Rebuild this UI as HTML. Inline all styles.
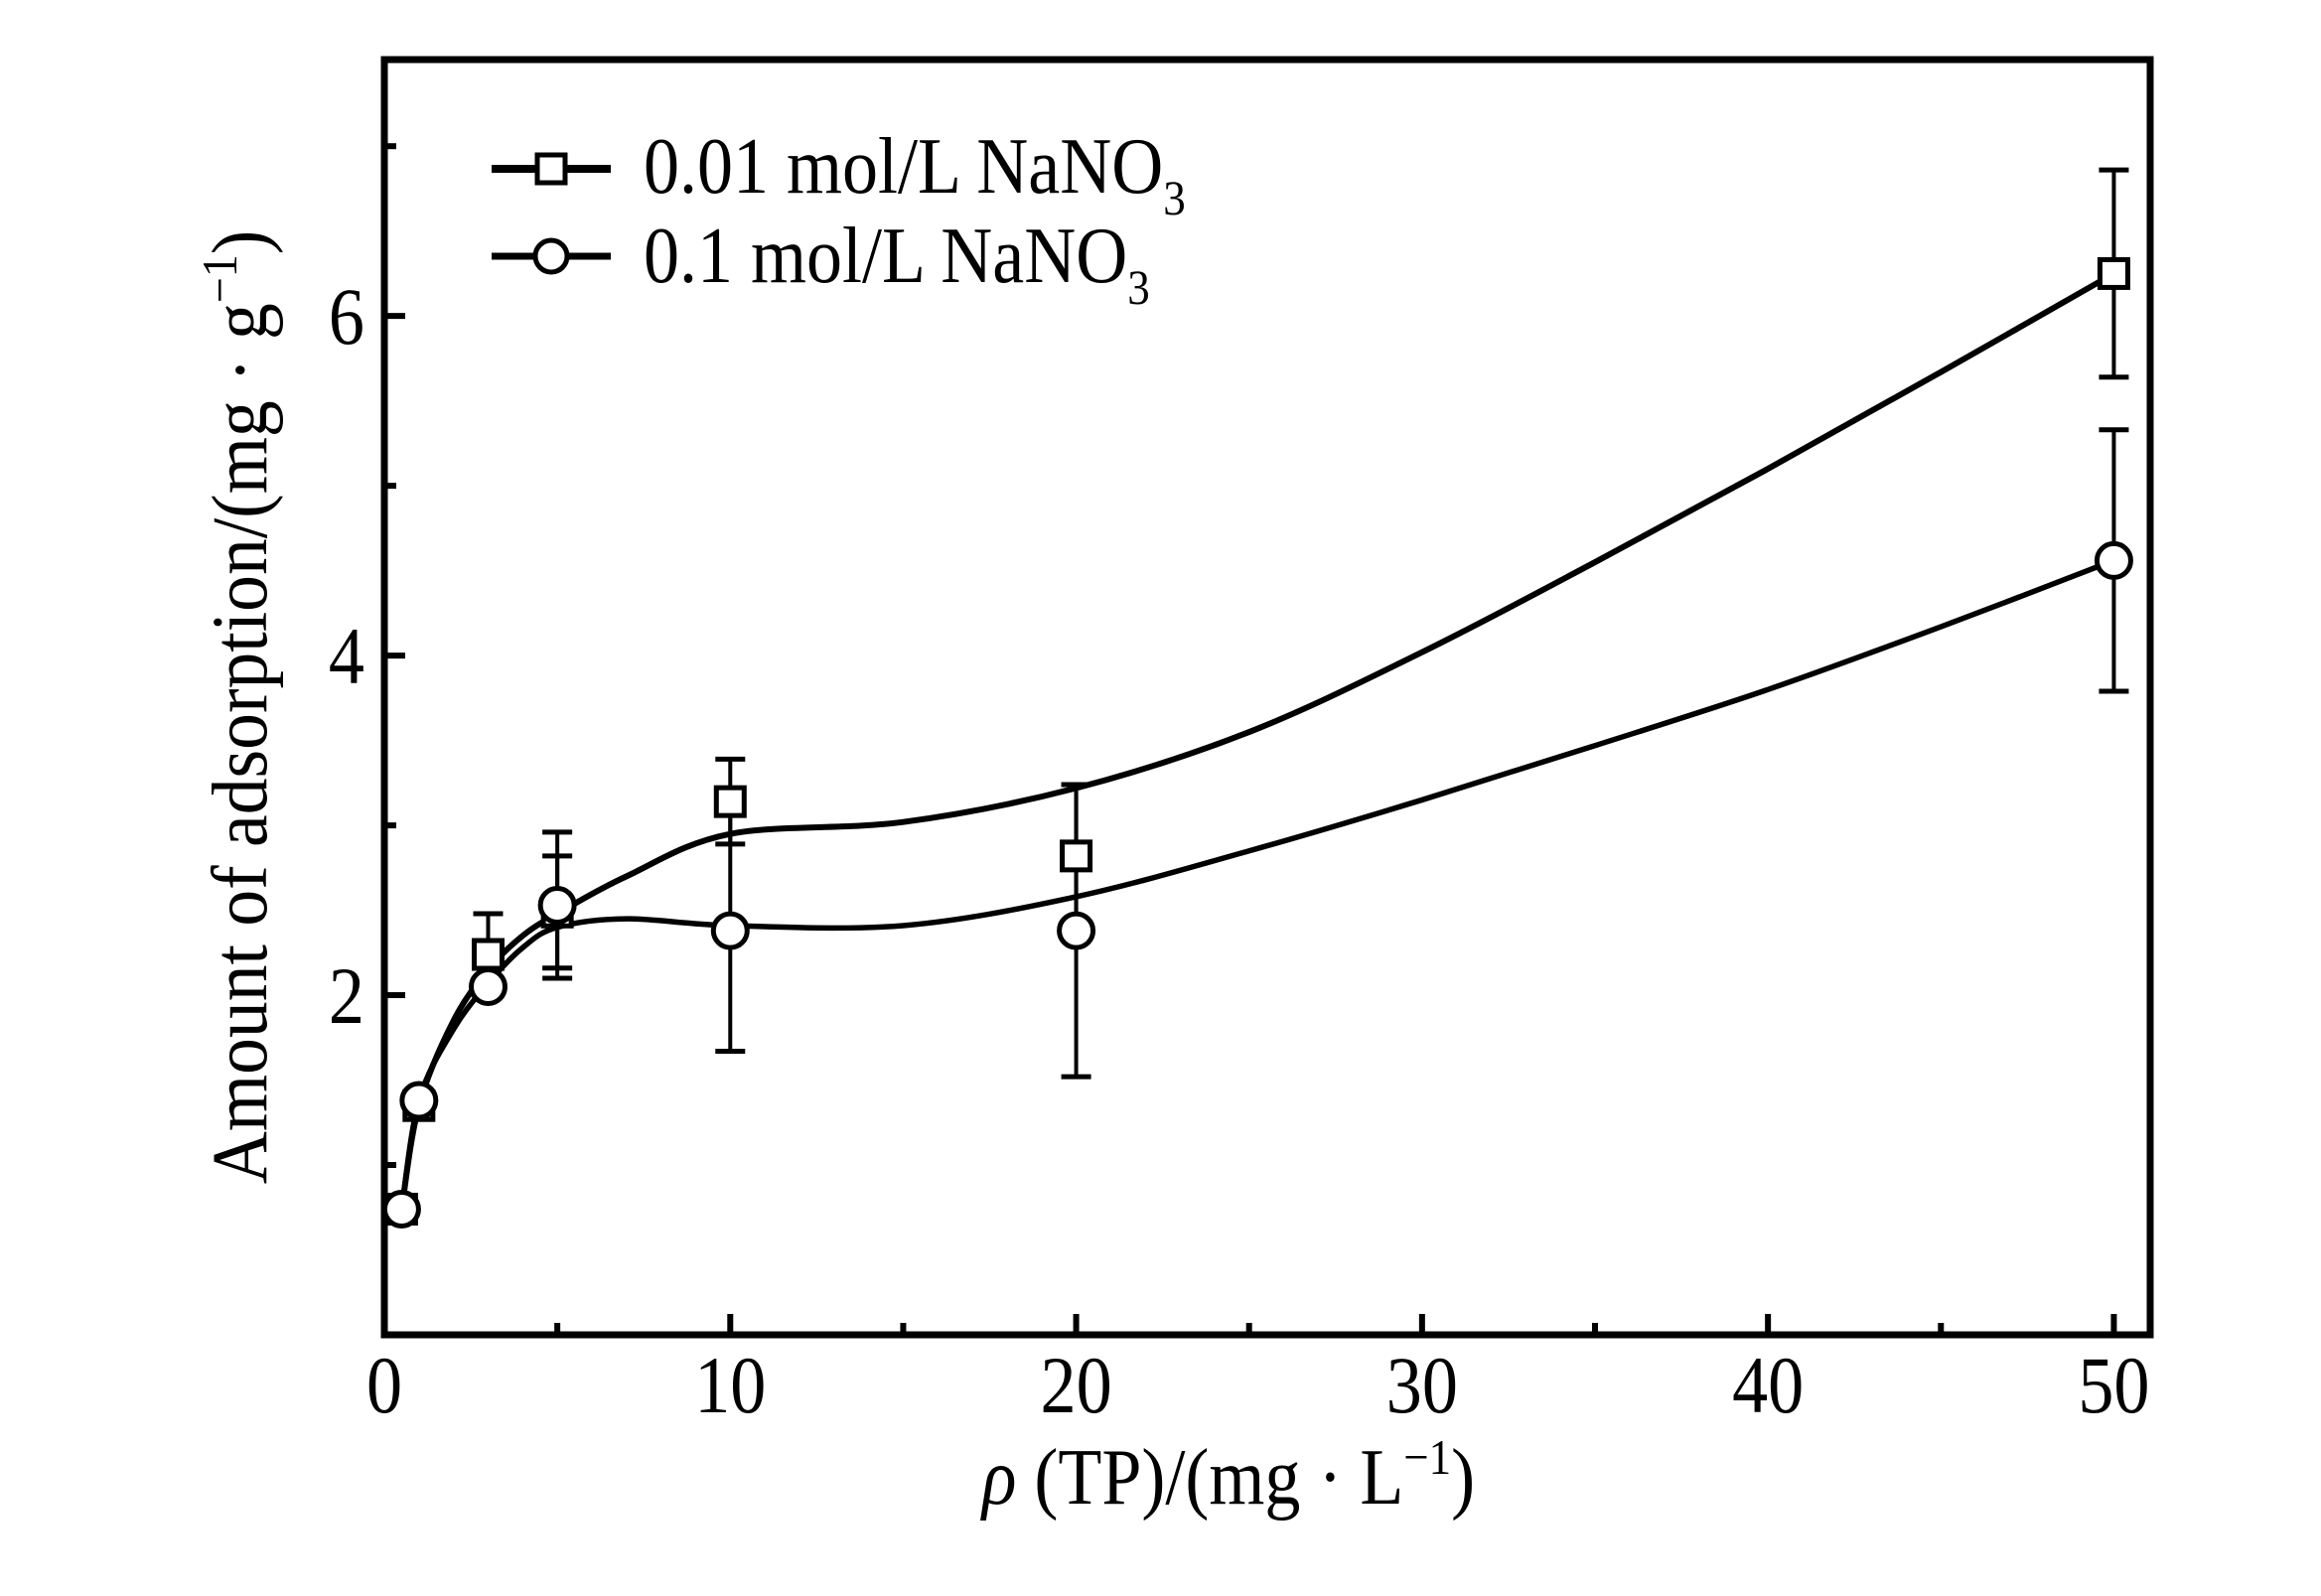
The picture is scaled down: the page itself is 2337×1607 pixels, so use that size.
<!DOCTYPE html>
<html><head><meta charset="utf-8"><style>
html,body{margin:0;padding:0;background:#fff;}
svg{display:block;font-family:"Liberation Serif",serif;}
</style></head><body>
<svg id="chart" width="2337" height="1607" viewBox="0 0 2337 1607" xmlns="http://www.w3.org/2000/svg">
<g id="plot"></g>
</svg>
<script>
const xValues = [0.5, 1, 3, 5, 10, 20, 50];
const squareValues = [0.74, 1.35, 2.24, 2.49, 3.14, 2.82, 6.25];
const squareErrors = [0.02, 0.05, 0.24, 0.33, 0.25, 0.42, 0.61];
const circleValues = [0.74, 1.38, 2.05, 2.53, 2.38, 2.38, 4.56];
const circleErrors = [0.02, 0.05, 0.05, 0.43, 0.71, 0.86, 0.77];
const fitX = [0.5, 1, 2, 3, 4, 5, 7, 10, 15, 20, 25, 30, 35, 40, 45, 50];
const squareFit = [0.74, 1.35, 1.85, 2.15, 2.35, 2.48, 2.7, 2.95, 3.02, 3.22, 3.55, 4.02, 4.55, 5.1, 5.67, 6.25];
const circleFit = [0.74, 1.38, 1.8, 2.07, 2.28, 2.4, 2.45, 2.41, 2.41, 2.58, 2.85, 3.15, 3.47, 3.8, 4.17, 4.56];
const xTicks = [0, 10, 20, 30, 40, 50];
const xMinor = [5, 15, 25, 35, 45];
const yTicks = [2, 4, 6];
const yMinor = [1, 3, 5, 7];

const NS = "http://www.w3.org/2000/svg";
const L = 387, R = 2165, T = 60, B = 1344;
const XMIN = 0, XMAX = 51.05, YMIN = 0, YMAX = 7.51;
function sx(v){ return L + (v - XMIN) / (XMAX - XMIN) * (R - L); }
function sy(v){ return B - (v - YMIN) / (YMAX - YMIN) * (B - T); }
const g = document.getElementById('plot');
function mk(tag, attrs, parent){
  const e = document.createElementNS(NS, tag);
  for (const k in attrs) e.setAttribute(k, attrs[k]);
  (parent || g).appendChild(e);
  return e;
}

const frame = mk('rect', {x:L, y:T, width:R-L, height:B-T, fill:'none', stroke:'#000', 'stroke-width':7});



xTicks.forEach(v => {
  const t = mk('line', {x1:sx(v), x2:sx(v), y1:B, y2:B-21, stroke:'#000', 'stroke-width':6});
  
  
  const lb = mk('text', {transform:'translate(' + sx(v) + ',1422) scale(0.88,1)', 'font-size':82, 'text-anchor':'middle'});
  lb.textContent = v;
  
  
});
xMinor.forEach(v => {
  const t = mk('line', {x1:sx(v), x2:sx(v), y1:B, y2:B-12, stroke:'#000', 'stroke-width':6});
  
  
});
yTicks.forEach(v => {
  const t = mk('line', {x1:L, x2:L+21, y1:sy(v), y2:sy(v), stroke:'#000', 'stroke-width':6});
  
  
  const lb = mk('text', {transform:'translate(367,' + (sy(v)+28) + ') scale(0.88,1)', 'font-size':82, 'text-anchor':'end'});
  lb.textContent = v;
  
  
});
yMinor.forEach(v => {
  const t = mk('line', {x1:L, x2:L+12, y1:sy(v), y2:sy(v), stroke:'#000', 'stroke-width':6});
  
  
});

function curvePath(xs, ys){
  const p = xs.map((x,i)=>[sx(x), sy(ys[i])]);
  let d = 'M' + p[0][0] + ',' + p[0][1];
  for (let i = 0; i < p.length-1; i++){
    const p0 = p[Math.max(0,i-1)], p1 = p[i], p2 = p[i+1], p3 = p[Math.min(p.length-1,i+2)];
    const c1x = p1[0] + (p2[0]-p0[0])/6, c1y = p1[1] + (p2[1]-p0[1])/6;
    const c2x = p2[0] - (p3[0]-p1[0])/6, c2y = p2[1] - (p3[1]-p1[1])/6;
    d += ' C' + c1x + ',' + c1y + ' ' + c2x + ',' + c2y + ' ' + p2[0] + ',' + p2[1];
  }
  return d;
}
const c1 = mk('path', {d:curvePath(fitX, squareFit), fill:'none', stroke:'#000', 'stroke-width':6});


const c2 = mk('path', {d:curvePath(fitX, circleFit), fill:'none', stroke:'#000', 'stroke-width':5.5});



function errBar(x, y, e, name){
  const cx = sx(x), y1 = sy(y+e), y2 = sy(y-e);
  const gg = mk('g', {});
  
  
  mk('line', {x1:cx, x2:cx, y1:y1, y2:y2, stroke:'#000', 'stroke-width':4}, gg);
  mk('line', {x1:cx-15, x2:cx+15, y1:y1, y2:y1, stroke:'#000', 'stroke-width':5}, gg);
  mk('line', {x1:cx-15, x2:cx+15, y1:y2, y2:y2, stroke:'#000', 'stroke-width':5}, gg);
}
xValues.forEach((x,i) => {
  errBar(x, squareValues[i], squareErrors[i], 'error-bar-0.01');
  errBar(x, circleValues[i], circleErrors[i], 'error-bar-0.1');
});
xValues.forEach((x,i) => {
  const s = mk('rect', {x:sx(x)-14, y:sy(squareValues[i])-14, width:28, height:28, fill:'#fff', stroke:'#000', 'stroke-width':5});
  
  
  const c = mk('circle', {cx:sx(x), cy:sy(circleValues[i]), r:17, fill:'#fff', stroke:'#000', 'stroke-width':5});
  
  
});

const lg = mk('g', {});


const l1 = mk('line', {x1:495, x2:615, y1:170, y2:170, stroke:'#000', 'stroke-width':8}, lg);


const ls = mk('rect', {x:541, y:156, width:28, height:28, fill:'#fff', stroke:'#000', 'stroke-width':5}, lg);


const l2 = mk('line', {x1:495, x2:615, y1:258, y2:258, stroke:'#000', 'stroke-width':7}, lg);


const lc = mk('circle', {cx:555, cy:258, r:16, fill:'#fff', stroke:'#000', 'stroke-width':5}, lg);


</script>
<svg style="position:absolute;left:0;top:0" width="2337" height="1607" xmlns="http://www.w3.org/2000/svg">
<g font-family="Liberation Serif, serif" fill="#000">
<text transform="translate(648,194) scale(0.9,1)" font-size="80">0.01 mol/L NaNO<tspan font-size="50" dy="22">3</tspan></text>
<text transform="translate(648,284) scale(0.9,1)" font-size="80">0.1 mol/L NaNO<tspan font-size="50" dy="22">3</tspan></text>
<text transform="translate(268,712) rotate(-90) scale(0.92,1)" text-anchor="middle" font-size="80">Amount of adsorption/(mg · g<tspan font-size="50" dy="-30">−1</tspan><tspan dy="30">)</tspan></text>
<text transform="translate(1237,1514) scale(0.9,1)" text-anchor="middle" font-size="80"><tspan font-style="italic">ρ</tspan> (TP)/(mg · L<tspan font-size="50" dy="-30">−1</tspan><tspan dy="30">)</tspan></text>
</g>
</svg>
</body></html>
